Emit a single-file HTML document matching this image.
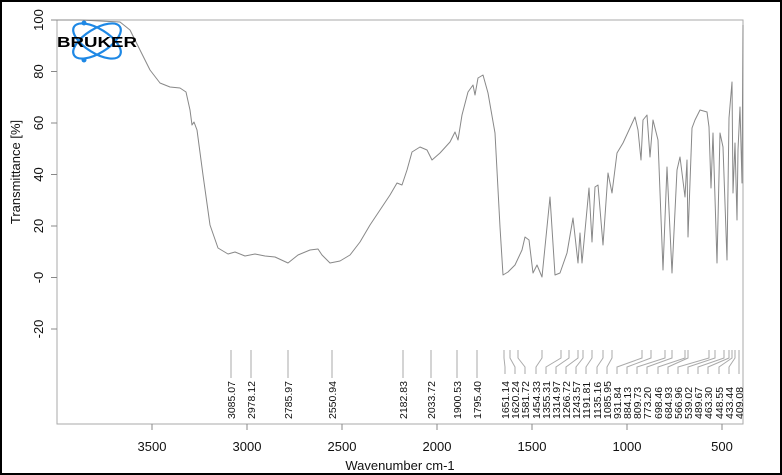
<!DOCTYPE html>
<html><head><meta charset="utf-8"><style>
html,body{margin:0;padding:0;background:#fff}
svg{display:block}
text{font-family:"Liberation Sans",Arial,sans-serif;fill:#111}
</style></head><body>
<svg width="782" height="475" viewBox="0 0 782 475" xmlns="http://www.w3.org/2000/svg">
<rect x="1" y="1" width="780" height="473" fill="#fff" stroke="#000" stroke-width="2"/>
<path d="M57,20 V424 H743 V20 H57" fill="none" stroke="#aaa" stroke-width="1"/>
<g stroke="#888">
<line x1="51" y1="20" x2="57" y2="20"/><line x1="51" y1="71.5" x2="57" y2="71.5"/>
<line x1="51" y1="123" x2="57" y2="123"/><line x1="51" y1="174.5" x2="57" y2="174.5"/>
<line x1="51" y1="226" x2="57" y2="226"/><line x1="51" y1="277.5" x2="57" y2="277.5"/>
<line x1="51" y1="329" x2="57" y2="329"/>
<line x1="152" y1="424" x2="152" y2="430"/><line x1="247" y1="424" x2="247" y2="430"/>
<line x1="342" y1="424" x2="342" y2="430"/><line x1="437" y1="424" x2="437" y2="430"/>
<line x1="532" y1="424" x2="532" y2="430"/><line x1="627" y1="424" x2="627" y2="430"/>
<line x1="722" y1="424" x2="722" y2="430"/>
</g>
<g font-size="13" text-anchor="middle">
<text transform="translate(43,20) rotate(-90)">100</text>
<text transform="translate(43,71.5) rotate(-90)">80</text>
<text transform="translate(43,123) rotate(-90)">60</text>
<text transform="translate(43,174.5) rotate(-90)">40</text>
<text transform="translate(43,226) rotate(-90)">20</text>
<text transform="translate(43,277.5) rotate(-90)">-0</text>
<text transform="translate(43,329) rotate(-90)">-20</text>
<text x="152" y="451">3500</text><text x="247" y="451">3000</text>
<text x="342" y="451">2500</text><text x="437" y="451">2000</text>
<text x="532" y="451">1500</text><text x="627" y="451">1000</text>
<text x="722" y="451">500</text>
<text x="400" y="470">Wavenumber cm-1</text>
<text transform="translate(20,172) rotate(-90)">Transmittance [%]</text>
</g>
<polyline fill="none" stroke="#888" stroke-width="1" stroke-linejoin="round" points="57,20 80,20 100,21 120,22 130,30 140,50 150,70 160,83 170,87 180,88 186,92 190,110 192,125 194,122 197,130 203,175 210,225 218,248 228,254 235,252 245,256 255,254 265,256 275,257 288,263 298,255 310,250 318,249 322,255 330,263 340,261 350,255 360,242 370,225 380,210 390,195 397,183 402,185 407,170 412,152 420,147 427,150 432,160 440,153 450,142 455,132 458,140 462,115 468,92 473,85 475,95 478,78 483,75 488,93 495,133 500,227 503,275 508,272 515,265 522,250 525,237 529,240 533,273 537,265 542,277 550,197 555,275 560,273 567,253 573,218 578,263 580,233 582,263 589,188 592,242 595,187 598,185 603,245 608,173 612,193 617,153 623,143 635,117 638,130 641,160 643,120 647,115 650,157 653,120 658,140 663,270 667,167 672,273 677,170 680,157 685,197 687,160 688,237 692,128 695,120 700,110 707,112 709,127 711,188 713,133 717,263 720,133 723,147 727,260 729,118 732,82 733,193 735,143 737,220 738,150 740,107 742,183 743,25"/>
<g fill="none" stroke="#1e88e5" stroke-width="2.2">
<ellipse cx="97" cy="41" rx="27" ry="12" transform="rotate(32 97 41)"/>
<ellipse cx="97" cy="41" rx="27" ry="12" transform="rotate(-32 97 41)"/>
</g>
<circle cx="84" cy="23" r="2.5" fill="#1e88e5"/><circle cx="84" cy="60" r="2.5" fill="#1e88e5"/>
<text x="57" y="47" font-size="15" font-weight="bold" textLength="80" lengthAdjust="spacingAndGlyphs" style="fill:#000">BRUKER</text>
<g stroke="#aaa" fill="none">
<line x1="231" y1="350" x2="231" y2="378"/><line x1="251" y1="350" x2="251" y2="378"/>
<line x1="288" y1="350" x2="288" y2="378"/><line x1="332" y1="350" x2="332" y2="378"/>
<line x1="403" y1="350" x2="403" y2="378"/><line x1="431" y1="350" x2="431" y2="378"/>
<line x1="457" y1="350" x2="457" y2="378"/><line x1="477" y1="350" x2="477" y2="378"/>
</g>
<g font-size="10.5">
<text transform="translate(235,419) rotate(-90)">3085.07</text>
<text transform="translate(255,419) rotate(-90)">2978.12</text>
<text transform="translate(292,419) rotate(-90)">2785.97</text>
<text transform="translate(336,419) rotate(-90)">2550.94</text>
<text transform="translate(407,419) rotate(-90)">2182.83</text>
<text transform="translate(435,419) rotate(-90)">2033.72</text>
<text transform="translate(461,419) rotate(-90)">1900.53</text>
<text transform="translate(481,419) rotate(-90)">1795.40</text>
</g>
<g stroke="#aaa" fill="none">
<polyline points="504,350 504,358 505,367 505,374"/>
<polyline points="510,350 510,358 515,367 515,374"/>
<polyline points="518,350 518,358 525,367 525,374"/>
<polyline points="542,350 542,358 536,367 536,374"/>
<polyline points="561,350 561,358 546,367 546,374"/>
<polyline points="569,350 569,358 556,367 556,374"/>
<polyline points="578,350 578,358 566,367 566,374"/>
<polyline points="583,350 583,358 576,367 576,374"/>
<polyline points="592,350 592,358 586,367 586,374"/>
<polyline points="603,350 603,358 597,367 597,374"/>
<polyline points="612,350 612,358 607,367 607,374"/>
<polyline points="642,350 642,358 617,367 617,374"/>
<polyline points="651,350 651,358 627,367 627,374"/>
<polyline points="665,350 665,358 637,367 637,374"/>
<polyline points="672,350 672,358 647,367 647,374"/>
<polyline points="685,350 685,358 658,367 658,374"/>
<polyline points="688,350 688,358 668,367 668,374"/>
<polyline points="709,350 709,358 678,367 678,374"/>
<polyline points="715,350 715,358 688,367 688,374"/>
<polyline points="724,350 724,358 698,367 698,374"/>
<polyline points="729,350 729,358 708,367 708,374"/>
<polyline points="732,350 732,358 719,367 719,374"/>
<polyline points="735,350 735,358 729,367 729,374"/>
<polyline points="739,350 739,358 739,367 739,374"/>
</g>
<g font-size="10.5">
<text transform="translate(509,419) rotate(-90)">1651.14</text>
<text transform="translate(519,419) rotate(-90)">1620.24</text>
<text transform="translate(529,419) rotate(-90)">1581.72</text>
<text transform="translate(540,419) rotate(-90)">1454.33</text>
<text transform="translate(550,419) rotate(-90)">1355.31</text>
<text transform="translate(560,419) rotate(-90)">1314.97</text>
<text transform="translate(570,419) rotate(-90)">1266.72</text>
<text transform="translate(580,419) rotate(-90)">1243.57</text>
<text transform="translate(590,419) rotate(-90)">1191.81</text>
<text transform="translate(601,419) rotate(-90)">1135.16</text>
<text transform="translate(611,419) rotate(-90)">1085.95</text>
<text transform="translate(621,419) rotate(-90)">931.84</text>
<text transform="translate(631,419) rotate(-90)">884.13</text>
<text transform="translate(641,419) rotate(-90)">809.73</text>
<text transform="translate(651,419) rotate(-90)">773.20</text>
<text transform="translate(662,419) rotate(-90)">698.46</text>
<text transform="translate(672,419) rotate(-90)">684.93</text>
<text transform="translate(682,419) rotate(-90)">566.96</text>
<text transform="translate(692,419) rotate(-90)">539.02</text>
<text transform="translate(702,419) rotate(-90)">489.67</text>
<text transform="translate(712,419) rotate(-90)">463.30</text>
<text transform="translate(723,419) rotate(-90)">448.55</text>
<text transform="translate(733,419) rotate(-90)">433.44</text>
<text transform="translate(743,419) rotate(-90)">409.08</text>
</g>
</svg>
</body></html>
